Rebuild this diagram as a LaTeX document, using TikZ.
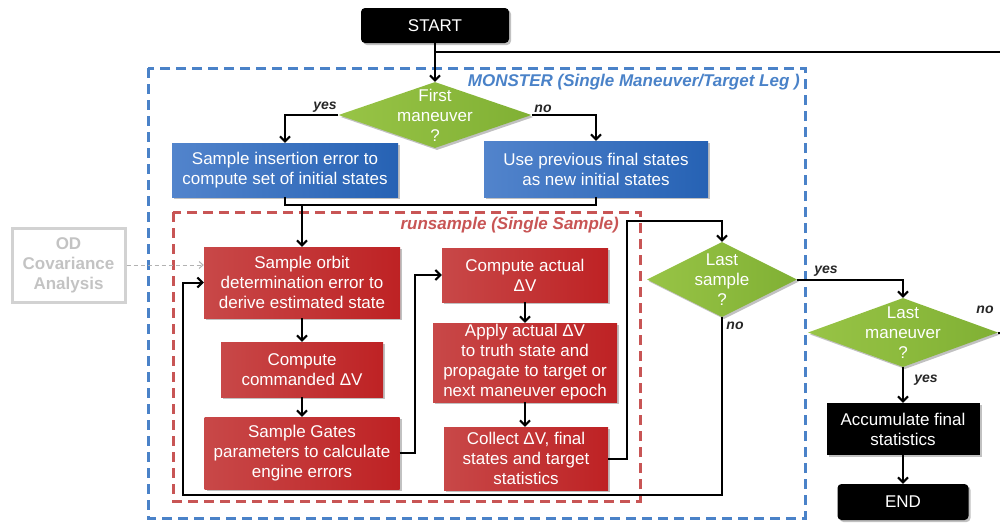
\documentclass[tikz,border=0pt]{standalone}
\usepackage{fontspec}
\setmainfont{Liberation Sans}
\usetikzlibrary{shapes.geometric,arrows.meta,shadows,calc}
\definecolor{bL}{RGB}{82,132,204}
\definecolor{bR}{RGB}{38,98,180}
\definecolor{rL}{RGB}{200,72,72}
\definecolor{rR}{RGB}{190,34,36}
\definecolor{gL}{RGB}{152,196,70}
\definecolor{gR}{RGB}{128,176,52}
\definecolor{frameblue}{RGB}{74,130,200}
\definecolor{framered}{RGB}{200,85,85}
\definecolor{odgray}{RGB}{210,210,210}
\definecolor{odtext}{RGB}{195,195,195}
\begin{document}
\begin{tikzpicture}[x=1pt,y=-1pt,
  txt/.style={font=\fontsize{17}{20}\selectfont, text=white, align=center},
  shad/.style={drop shadow={shadow xshift=2pt,shadow yshift=-2pt,opacity=0.35,fill=black!70}},
  box/.style={txt, draw=none, inner sep=0pt, shad},
  bluebox/.style={box, left color=bL, right color=bR},
  redbox/.style={box, left color=rL, right color=rR},
  blackbox/.style={box, fill=black},
  dia/.style={diamond, inner sep=0pt, draw=none, left color=gL, right color=gR, shad},
  lab/.style={font=\fontsize{14}{16}\selectfont\bfseries\itshape, text=black!85, inner sep=1pt},
  framelab/.style={font=\fontsize{17}{20}\selectfont\bfseries\itshape, inner sep=0pt},
  frame/.style={line width=3pt, dash pattern=on 10pt off 6pt},
  conn/.style={line width=2pt, black},
  arr/.style={conn, -{Straight Barb[length=5pt,width=10pt]}},
  odarr/.style={line width=1pt, odgray!85!black, dash pattern=on 4pt off 3pt, -{Straight Barb[length=4pt,width=7pt]}}
]
\useasboundingbox (0,0) rectangle (1000,523);

% frames
\draw[frame, frameblue] (148,68) rectangle (805,518);
\draw[frame, framered] (173,212) rectangle (640,501);
\node[framelab, text=frameblue, anchor=east] (monster) at (800,82) {MONSTER (Single Maneuver/Target Leg )};
\node[framelab, text=framered, anchor=east] (runs) at (619,225) {runsample (Single Sample)};

% nodes
\node[blackbox, rounded corners=4pt, minimum width=148, minimum height=35] (start) at (435,25.5) {START};
\node[dia, minimum width=193, minimum height=66] (d1) at (435,115) {};
\node[txt] (d1t) at (d1.center) {First\\maneuver\\?};
\node[bluebox, minimum width=226, minimum height=54] (b1) at (285,170) {Sample insertion error to\\compute set of initial states};
\node[bluebox, minimum width=224, minimum height=56] (b2) at (596,169) {Use previous final states\\as new initial states};

\node[redbox, minimum width=196, minimum height=71] (r1) at (302,282.5) {Sample orbit\\determination error to\\derive estimated state};
\node[redbox, minimum width=162, minimum height=55] (r2) at (302,369.5) {Compute\\commanded ΔV};
\node[redbox, minimum width=195, minimum height=72] (r3) at (302,453) {Sample Gates\\parameters to calculate\\engine errors};
\node[redbox, minimum width=166, minimum height=54] (r4) at (525,275) {Compute actual\\ΔV};
\node[redbox, minimum width=184, minimum height=79] (r5) at (525,362.5) {Apply actual ΔV\\to truth state and\\propagate to target or\\next maneuver epoch};
\node[redbox, minimum width=164, minimum height=63] (r6) at (526,458.5) {Collect ΔV, final\\states and target\\statistics};

\node[dia, minimum width=150, minimum height=75] (d2) at (722,279.5) {};
\node[txt] (d2t) at (d2.center) {Last\\sample\\?};
\node[dia, minimum width=190, minimum height=69] (d3) at (903,332.5) {};
\node[txt] (d3t) at (d3.center) {Last\\maneuver\\?};
\node[blackbox, minimum width=153, minimum height=52] (acc) at (903,429) {Accumulate final\\statistics};
\node[blackbox, rounded corners=4pt, minimum width=131, minimum height=36] (end) at (903,502) {END};

\node[draw=odgray, line width=3pt, minimum width=113, minimum height=74, inner sep=0pt,
  font=\fontsize{17}{20}\selectfont\bfseries, text=odtext, align=center] (od) at (68.5,265) {OD\\Covariance\\Analysis};

% coordinates
\coordinate (j0) at (435,52);
\coordinate (e0) at (1000,52);
\coordinate (m1) at (302,205);
\coordinate (c6) at (627,221);
\coordinate (c7) at (183,495);
\coordinate (e3) at (1000,332.5);

% connectors
\draw[arr] (start.south) -- (d1.north);
\draw[conn] (j0) -- (e0);
\draw[arr] (d1.west) -| (b1.north);
\draw[arr] (d1.east) -| (b2.north);
\draw[conn] (b1.south) |- (m1);
\draw[conn] (b2.south) |- (m1);
\draw[arr] (m1) -- (r1.north);
\draw[arr] (r1.south) -- (r2.north);
\draw[arr] (r2.south) -- (r3.north);
\draw[arr] (r3.east) -- ++(15,0) |- (r4.west);
\draw[arr] (r4.south) -- (r5.north);
\draw[arr] (r5.south) -- (r6.north -| r5.south);
\draw[arr] (r6.east) -| (c6) -| (d2.north);
\draw[arr] (d2.south) |- (c7) |- (r1.west);
\draw[arr] (d2.east) -| (d3.north);
\draw[conn] (d3.east) -- (e3);
\draw[arr] (d3.south) -- (acc.north);
\draw[arr] (acc.south) -- (end.north);
\draw[odarr] (od.east) -- (od.east -| r1.west);

% labels
\node[lab, anchor=south] (y1) at (325,114) {yes};
\node[lab, anchor=south] (n1) at (543,114) {no};
\node[lab, anchor=south] (y2) at (826,278) {yes};
\node[lab] (n2) at (735,326) {no};
\node[lab] (n3) at (985,310) {no};
\node[lab] (y3) at (926,380) {yes};
\end{tikzpicture}
\end{document}
